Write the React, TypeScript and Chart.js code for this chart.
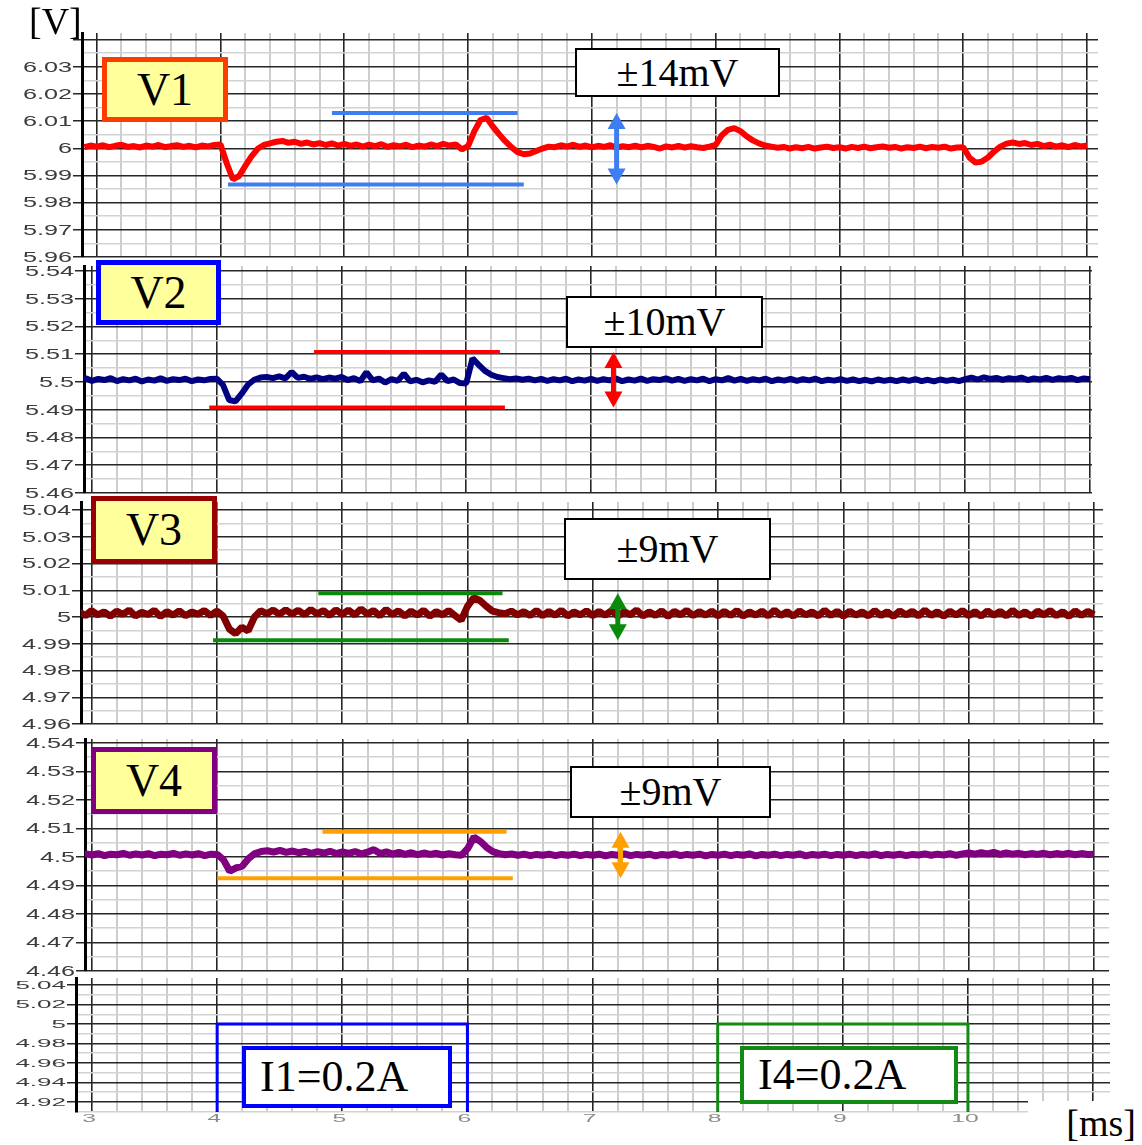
import React, { useEffect, useRef } from 'react';
import { Chart, registerables } from 'chart.js';

Chart.register(...registerables);

// ---------------- data ----------------
const TIME_MS = [
  2.9, 2.95,
  3, 3.05, 3.1, 3.15, 3.2, 3.25, 3.3, 3.35, 3.4, 3.45, 3.5, 3.55, 3.6, 3.65, 3.7, 3.75, 3.8, 3.85, 3.9, 3.95,
  4, 4.05, 4.1, 4.15, 4.2, 4.25, 4.3, 4.35, 4.4, 4.45, 4.5, 4.55, 4.6, 4.65, 4.7, 4.75, 4.8, 4.85, 4.9, 4.95,
  5, 5.05, 5.1, 5.15, 5.2, 5.25, 5.3, 5.35, 5.4, 5.45, 5.5, 5.55, 5.6, 5.65, 5.7, 5.75, 5.8, 5.85, 5.9, 5.95,
  6, 6.05, 6.1, 6.15, 6.2, 6.25, 6.3, 6.35, 6.4, 6.45, 6.5, 6.55, 6.6, 6.65, 6.7, 6.75, 6.8, 6.85, 6.9, 6.95,
  7, 7.05, 7.1, 7.15, 7.2, 7.25, 7.3, 7.35, 7.4, 7.45, 7.5, 7.55, 7.6, 7.65, 7.7, 7.75, 7.8, 7.85, 7.9, 7.95,
  8, 8.05, 8.1, 8.15, 8.2, 8.25, 8.3, 8.35, 8.4, 8.45, 8.5, 8.55, 8.6, 8.65, 8.7, 8.75, 8.8, 8.85, 8.9, 8.95,
  9, 9.05, 9.1, 9.15, 9.2, 9.25, 9.3, 9.35, 9.4, 9.45, 9.5, 9.55, 9.6, 9.65, 9.7, 9.75, 9.8, 9.85, 9.9, 9.95,
  10, 10.05, 10.1, 10.15, 10.2, 10.25, 10.3, 10.35, 10.4, 10.45, 10.5, 10.55, 10.6, 10.65, 10.7, 10.75, 10.8, 10.85, 10.9, 10.95,
  11,
];

const V1_VOLTS = [
  6.0004, 6.0010,
  6.0006, 6.0011, 6.0004, 6.0009, 6.0013, 6.0005, 6.0008, 6.0003, 6.0010, 6.0006, 6.0012, 6.0004, 6.0008, 6.0011, 6.0005, 6.0009, 6.0003, 6.0010, 6.0007, 6.0012,
  6.0014, 5.9945, 5.9886, 5.9898, 5.9935, 5.9970, 5.9998, 6.0012, 6.0018, 6.0024, 6.0027, 6.0020, 6.0024, 6.0016, 6.0021, 6.0014, 6.0019, 6.0012, 6.0018, 6.0010,
  6.0016, 6.0009, 6.0014, 6.0006, 6.0013, 6.0008, 6.0015, 6.0005, 6.0011, 6.0007, 6.0013, 6.0004, 6.0010, 6.0006, 6.0014, 6.0008, 6.0016, 6.0010, 6.0014, 5.9996,
  6.0008, 6.0062, 6.0104, 6.0112, 6.0080, 6.0052, 6.0026, 6.0004, 5.9986, 5.9978, 5.9981, 5.9990, 5.9999, 6.0006, 6.0004, 6.0011, 6.0006, 6.0013, 6.0005, 6.0010,
  6.0003, 6.0009, 6.0005, 6.0011, 6.0002, 6.0008, 6.0004, 6.0010, 6.0003, 6.0009, 6.0005, 5.9999, 6.0007, 6.0003, 6.0009, 6.0002, 6.0008, 6.0004, 6.0001, 6.0006,
  6.0012, 6.0048, 6.0068, 6.0074, 6.0063, 6.0044, 6.0029, 6.0018, 6.0010, 6.0006, 6.0002, 6.0005, 5.9999, 6.0004, 6.0000, 6.0005, 5.9999, 6.0003, 6.0006, 6.0001,
  6.0004, 5.9999, 6.0005, 6.0001, 6.0006, 6.0000, 6.0004, 6.0007, 6.0002, 6.0005, 5.9999, 6.0004, 6.0001, 6.0006, 6.0000, 6.0005, 6.0002, 6.0006, 5.9999, 6.0003,
  6.0004, 5.9966, 5.9947, 5.9951, 5.9966, 5.9988, 6.0006, 6.0017, 6.0021, 6.0016, 6.0019, 6.0012, 6.0016, 6.0008, 6.0013, 6.0006, 6.0011, 6.0004, 6.0012, 6.0007,
  6.0010,
];

const V2_VOLTS = [
  5.5006, 5.5013,
  5.5004, 5.5011, 5.5007, 5.5014, 5.5003, 5.5010, 5.5006, 5.5012, 5.5002, 5.5009, 5.5005, 5.5013, 5.5004, 5.5010, 5.5007, 5.5012, 5.5003, 5.5009, 5.5006, 5.5011,
  5.5012, 5.4990, 5.4935, 5.4930, 5.4958, 5.4990, 5.5008, 5.5016, 5.5018, 5.5014, 5.5020, 5.5013, 5.5036, 5.5015, 5.5019, 5.5011, 5.5017, 5.5010, 5.5016, 5.5012,
  5.5018, 5.5007, 5.5014, 5.5003, 5.5035, 5.5006, 5.5012, 5.4998, 5.5010, 5.5004, 5.5030, 5.5002, 5.5008, 5.4999, 5.5006, 5.5001, 5.5027, 5.5003, 5.5009, 5.4996,
  5.4995, 5.5085, 5.5062, 5.5040, 5.5026, 5.5018, 5.5014, 5.5010, 5.5013, 5.5008, 5.5012, 5.5006, 5.5011, 5.5004, 5.5010, 5.5006, 5.5012, 5.5003, 5.5009, 5.5005,
  5.5011, 5.5004, 5.5010, 5.5006, 5.5013, 5.5003, 5.5009, 5.5005, 5.5012, 5.5004, 5.5010, 5.5007, 5.5013, 5.5005, 5.5011, 5.5004, 5.5010, 5.5006, 5.5012, 5.5003,
  5.5010, 5.5006, 5.5014, 5.5005, 5.5011, 5.5004, 5.5010, 5.5006, 5.5012, 5.5003, 5.5009, 5.5005, 5.5011, 5.5004, 5.5010, 5.5006, 5.5012, 5.5003, 5.5008, 5.5005,
  5.5010, 5.5004, 5.5009, 5.5003, 5.5008, 5.5002, 5.5009, 5.5004, 5.5008, 5.5003, 5.5009, 5.5004, 5.5010, 5.5003, 5.5008, 5.5002, 5.5009, 5.5004, 5.5008, 5.5003,
  5.5010, 5.5016, 5.5009, 5.5017, 5.5011, 5.5015, 5.5008, 5.5014, 5.5010, 5.5016, 5.5007, 5.5013, 5.5009, 5.5015, 5.5008, 5.5014, 5.5010, 5.5015, 5.5007, 5.5013,
  5.5010,
];

const V3_VOLTS = [
  5.0020, 5.0005,
  5.0024, 5.0008, 5.0019, 5.0003, 5.0022, 5.0010, 5.0026, 5.0004, 5.0018, 5.0009, 5.0025, 5.0002, 5.0020, 5.0007, 5.0023, 5.0005, 5.0019, 5.0010, 5.0024, 5.0006,
  5.0022, 5.0004, 4.9955, 4.9938, 4.9962, 4.9948, 5.0000, 5.0024, 5.0012, 5.0026, 5.0010, 5.0027, 5.0011, 5.0025, 5.0009, 5.0028, 5.0012, 5.0024, 5.0006, 5.0027,
  5.0010, 5.0026, 5.0008, 5.0030, 5.0011, 5.0024, 5.0005, 5.0028, 5.0009, 5.0023, 5.0004, 5.0022, 5.0007, 5.0025, 5.0003, 5.0020, 5.0008, 5.0024, 5.0006, 4.9988,
  5.0040, 5.0072, 5.0062, 5.0040, 5.0022, 5.0016, 5.0012, 5.0022, 5.0008, 5.0020, 5.0006, 5.0024, 5.0005, 5.0021, 5.0007, 5.0025, 5.0004, 5.0019, 5.0008, 5.0023,
  5.0005, 5.0021, 5.0007, 5.0024, 5.0003, 5.0020, 5.0008, 5.0026, 5.0004, 5.0019, 5.0006, 5.0023, 5.0002, 5.0021, 5.0008, 5.0025, 5.0005, 5.0020, 5.0007, 5.0022,
  5.0004, 5.0021, 5.0006, 5.0024, 5.0003, 5.0019, 5.0007, 5.0022, 5.0004, 5.0026, 5.0006, 5.0020, 5.0003, 5.0023, 5.0008, 5.0019, 5.0004, 5.0025, 5.0006, 5.0021,
  5.0003, 5.0022, 5.0007, 5.0019, 5.0004, 5.0024, 5.0006, 5.0020, 5.0002, 5.0023, 5.0008, 5.0021, 5.0004, 5.0026, 5.0006, 5.0019, 5.0003, 5.0022, 5.0007, 5.0024,
  5.0005, 5.0020, 5.0003, 5.0023, 5.0007, 5.0021, 5.0004, 5.0025, 5.0006, 5.0019, 5.0003, 5.0022, 5.0008, 5.0024, 5.0005, 5.0020, 5.0002, 5.0023, 5.0006, 5.0021,
  5.0008,
];

const V4_VOLTS = [
  4.5006, 4.5011,
  4.5007, 4.5012, 4.5005, 4.5010, 4.5008, 4.5013, 4.5006, 4.5011, 4.5007, 4.5012, 4.5005, 4.5010, 4.5008, 4.5013, 4.5006, 4.5011, 4.5007, 4.5012, 4.5005, 4.5010,
  4.5009, 4.4990, 4.4950, 4.4962, 4.4968, 4.4995, 4.5012, 4.5019, 4.5022, 4.5017, 4.5023, 4.5016, 4.5021, 4.5015, 4.5020, 4.5013, 4.5019, 4.5014, 4.5020, 4.5012,
  4.5018, 4.5013, 4.5019, 4.5011, 4.5017, 4.5026, 4.5012, 4.5018, 4.5010, 4.5016, 4.5009, 4.5015, 4.5008, 4.5014, 4.5009, 4.5013, 4.5007, 4.5012, 4.5008, 4.5006,
  4.5030, 4.5070, 4.5055, 4.5034, 4.5019, 4.5012, 4.5008, 4.5011, 4.5006, 4.5010, 4.5005, 4.5009, 4.5006, 4.5010, 4.5005, 4.5009, 4.5006, 4.5010, 4.5005, 4.5009,
  4.5006, 4.5010, 4.5004, 4.5009, 4.5006, 4.5011, 4.5005, 4.5009, 4.5006, 4.5010, 4.5004, 4.5009, 4.5006, 4.5011, 4.5005, 4.5009, 4.5006, 4.5010, 4.5004, 4.5009,
  4.5006, 4.5010, 4.5005, 4.5009, 4.5006, 4.5011, 4.5004, 4.5009, 4.5006, 4.5010, 4.5005, 4.5009, 4.5006, 4.5011, 4.5004, 4.5009, 4.5006, 4.5010, 4.5005, 4.5009,
  4.5006, 4.5010, 4.5005, 4.5009, 4.5006, 4.5011, 4.5005, 4.5009, 4.5006, 4.5010, 4.5005, 4.5009, 4.5007, 4.5011, 4.5006, 4.5010, 4.5007, 4.5012, 4.5006, 4.5011,
  4.5014, 4.5010, 4.5015, 4.5011, 4.5016, 4.5009, 4.5014, 4.5010, 4.5013, 4.5008, 4.5012, 4.5009, 4.5013, 4.5008, 4.5012, 4.5009, 4.5013, 4.5008, 4.5012, 4.5009,
  4.5010,
];

// tolerance bands [lower, upper] and their time spans [[lower start, end], [upper start, end]]
const V1_LIMITS = [5.9867, 6.013];
const V1_LIMIT_SPANS = [[4.06, 6.45], [4.9, 6.4]];
const V1_ARROW_MS = 7.2;
const V2_LIMITS = [5.4908, 5.5108];
const V2_LIMIT_SPANS = [[3.94, 6.31], [4.78, 6.27]];
const V2_ARROW_MS = 7.18;
const V3_LIMITS = [4.9913, 5.0089];
const V3_LIMIT_SPANS = [[3.97, 6.33], [4.81, 6.28]];
const V3_ARROW_MS = 7.2;
const V4_LIMITS = [4.4925, 4.5089];
const V4_LIMIT_SPANS = [[4.0, 6.36], [4.84, 6.31]];
const V4_ARROW_MS = 7.22;

// load current steps (bottom panel)
const I1_STEP_MS = [4, 4, 6, 6];
const I1_STEP_LEVEL = [4.9, 5.0, 5.0, 4.9];
const I4_STEP_MS = [8, 8, 10, 10];
const I4_STEP_LEVEL = [4.9, 5.0, 5.0, 4.9];

// tick labels
const V1_TICK_LABELS = ['6.03', '6.02', '6.01', '6', '5.99', '5.98', '5.97', '5.96'];
const V2_TICK_LABELS = ['5.54', '5.53', '5.52', '5.51', '5.5', '5.49', '5.48', '5.47', '5.46'];
const V3_TICK_LABELS = ['5.04', '5.03', '5.02', '5.01', '5', '4.99', '4.98', '4.97', '4.96'];
const V4_TICK_LABELS = ['4.54', '4.53', '4.52', '4.51', '4.5', '4.49', '4.48', '4.47', '4.46'];
const I_TICK_LABELS = ['5.04', '5.02', '5', '4.98', '4.96', '4.94', '4.92'];
const TIME_TICK_LABELS = ['3', '4', '5', '6', '7', '8', '9', '10', '11'];

// ---------------- helpers ----------------
const W = 1142;
const near = (v: number, step: number) => Math.abs(v / step - Math.round(v / step)) < 1e-6;

function trace(values: number[], color: string, width: number) {
  const n = Math.min(TIME_MS.length, values.length);
  const data = [];
  for (let i = 0; i < n; i++) data.push({ x: TIME_MS[i], y: values[i] });
  return { data, borderColor: color, borderWidth: width, pointRadius: 0, tension: 0, borderJoinStyle: 'bevel' };
}
function limitLine(span: number[], level: number, color: string) {
  return {
    data: [{ x: span[0], y: level }, { x: span[1], y: level }],
    borderColor: color, borderWidth: 4, pointRadius: 0,
  };
}
function stepLine(xs: number[], ys: number[], color: string) {
  return {
    data: xs.map((x, i) => ({ x, y: ys[i] })),
    borderColor: color, borderWidth: 3, pointRadius: 0, tension: 0,
  };
}

type Spec = {
  top: number; bottom: number; left: number; right: number;
  xMin: number; xMax: number; yMin: number; yMax: number;
  yStep: number; yMajor: number;
  datasets: any[];
  yLabels: string[];
  fontSize: number; stretch: number;
  xLabels?: string[];
  arrow?: { at: number; from: number; to: number; color: string };
  clipBottom?: number;
};

function makeOverlay(spec: Spec, canvasTop: number) {
  return {
    id: 'overlay',
    afterDatasetsDraw(chart: any) {
      const a = spec.arrow;
      if (!a) return;
      const { ctx } = chart;
      const xs = chart.scales.x, ys = chart.scales.y;
      const px = xs.getPixelForValue(a.at);
      const pTop = ys.getPixelForValue(a.to);
      const pBot = ys.getPixelForValue(a.from);
      const head = 16, half = 9;
      ctx.save();
      ctx.fillStyle = a.color;
      ctx.strokeStyle = a.color;
      ctx.lineWidth = 5;
      ctx.beginPath();
      ctx.moveTo(px, pTop + head - 2);
      ctx.lineTo(px, pBot - head + 2);
      ctx.stroke();
      ctx.beginPath();
      ctx.moveTo(px, pTop);
      ctx.lineTo(px - half, pTop + head);
      ctx.lineTo(px + half, pTop + head);
      ctx.closePath();
      ctx.fill();
      ctx.beginPath();
      ctx.moveTo(px, pBot);
      ctx.lineTo(px - half, pBot - head);
      ctx.lineTo(px + half, pBot - head);
      ctx.closePath();
      ctx.fill();
      ctx.restore();
    },
    afterDraw(chart: any) {
      const { ctx, chartArea } = chart;
      const ys = chart.scales.y, xs = chart.scales.x;
      ctx.save();
      if (spec.clipBottom != null) {
        ctx.beginPath();
        ctx.rect(0, 0, chart.width, spec.clipBottom - canvasTop);
        ctx.clip();
      }
      ctx.font = `${spec.fontSize}px "Liberation Sans", Arial, sans-serif`;
      ctx.fillStyle = '#3c3c3c';
      ctx.textAlign = 'right';
      ctx.textBaseline = 'middle';
      for (const lab of spec.yLabels) {
        const py = ys.getPixelForValue(parseFloat(lab));
        ctx.save();
        ctx.translate(chartArea.left - 10, py + 1);
        ctx.scale(spec.stretch, 1);
        ctx.fillText(lab, 0, 0);
        ctx.restore();
      }
      ctx.restore();
      if (spec.xLabels) {
        ctx.save();
        ctx.font = `${spec.fontSize}px "Liberation Sans", Arial, sans-serif`;
        ctx.fillStyle = '#8a8a8a';
        ctx.textAlign = 'center';
        ctx.textBaseline = 'top';
        for (const lab of spec.xLabels) {
          const px = xs.getPixelForValue(parseFloat(lab));
          ctx.save();
          ctx.translate(px - 3, chartArea.bottom + 2);
          ctx.scale(spec.stretch * 0.95, 1);
          ctx.fillText(lab, 0, 0);
          ctx.restore();
        }
        ctx.restore();
      }
    },
  };
}

function Panel({ spec }: { spec: Spec }) {
  const ref = useRef<HTMLCanvasElement>(null);
  const padTop = 12;
  const padBottom = spec.xLabels ? 34 : 12;
  const height = spec.bottom - spec.top + padTop + padBottom;
  const canvasTop = spec.top - padTop;

  useEffect(() => {
    if (!ref.current) return;
    const majorX = (ctx: any) => (ctx.tick ? near(ctx.tick.value, 1) : false);
    const majorY = (ctx: any) => (ctx.tick ? near(ctx.tick.value, spec.yMajor) : false);
    const chart = new Chart(ref.current, {
      type: 'line',
      data: { datasets: spec.datasets },
      options: {
        animation: false,
        responsive: false,
        devicePixelRatio: 1,
        events: [],
        layout: { padding: { top: padTop, bottom: padBottom, left: 0, right: W - spec.right } },
        plugins: { legend: { display: false }, tooltip: { enabled: false } },
        scales: {
          x: {
            type: 'linear',
            min: spec.xMin,
            max: spec.xMax,
            ticks: { display: false, stepSize: 0.2, includeBounds: false, autoSkip: false },
            grid: {
              color: (c: any) => (majorX(c) ? '#262626' : '#cdcdcd'),
              lineWidth: (c: any) => (majorX(c) ? 1.6 : 2),
              drawTicks: false,
            },
            border: { display: false },
            afterFit: (s: any) => { s.height = 0; },
          },
          y: {
            type: 'linear',
            min: spec.yMin,
            max: spec.yMax,
            ticks: { display: false, stepSize: spec.yStep, includeBounds: false, autoSkip: false },
            grid: {
              color: (c: any) => (majorY(c) ? '#262626' : '#d2d2d2'),
              lineWidth: 1.5,
              tickColor: (c: any) => (majorY(c) ? '#262626' : 'rgba(0,0,0,0)'),
              tickLength: 9,
              tickWidth: 1.5,
              drawTicks: true,
            },
            border: { display: true, color: '#000', width: 3 },
            afterFit: (s: any) => { s.width = spec.left; },
          },
        },
      } as any,
      plugins: [makeOverlay(spec, canvasTop) as any],
    });
    return () => chart.destroy();
  }, []);

  return (
    <canvas
      ref={ref}
      width={W}
      height={height}
      style={{ position: 'absolute', left: 0, top: canvasTop, width: W, height }}
    />
  );
}

const serif = '"Liberation Serif", "Times New Roman", serif';

function Box(props: {
  left: number; top: number; width: number; height: number; border: string; bw: number;
  bg: string; text: string; size: number; align?: 'center' | 'left'; padLeft?: number;
}) {
  const { left, top, width, height, border, bw, bg, text, size, align = 'center', padLeft = 0 } = props;
  return (
    <div
      style={{
        position: 'absolute', left, top, width, height, boxSizing: 'border-box',
        border: `${bw}px solid ${border}`, background: bg, display: 'flex', alignItems: 'center',
        justifyContent: align === 'center' ? 'center' : 'flex-start', paddingLeft: padLeft,
        fontFamily: serif, fontSize: size, color: '#000', lineHeight: 1, whiteSpace: 'nowrap',
      }}
    >
      {text}
    </div>
  );
}

export default function App() {
  const panels: Spec[] = [
    {
      top: 33, bottom: 257, left: 82, right: 1098,
      xMin: 2.881, xMax: 11.089, yMin: 5.96, yMax: 6.0424, yStep: 0.005, yMajor: 0.01,
      datasets: [
        limitLine(V1_LIMIT_SPANS[1], V1_LIMITS[1], '#3d7ef2'),
        limitLine(V1_LIMIT_SPANS[0], V1_LIMITS[0], '#3d7ef2'),
        trace(V1_VOLTS, '#ff0000', 6),
      ],
      yLabels: V1_TICK_LABELS, fontSize: 14, stretch: 1.8,
      arrow: { at: V1_ARROW_MS, from: V1_LIMITS[0], to: V1_LIMITS[1], color: '#3d7ef2' },
      clipBottom: 262,
    },
    {
      top: 266, bottom: 493, left: 84, right: 1092,
      xMin: 2.936, xMax: 11.016, yMin: 5.46, yMax: 5.5418, yStep: 0.005, yMajor: 0.01,
      datasets: [
        limitLine(V2_LIMIT_SPANS[1], V2_LIMITS[1], '#ff0000'),
        limitLine(V2_LIMIT_SPANS[0], V2_LIMITS[0], '#ff0000'),
        trace(V2_VOLTS, '#000080', 6),
      ],
      yLabels: V2_TICK_LABELS, fontSize: 14, stretch: 1.8,
      arrow: { at: V2_ARROW_MS, from: V2_LIMITS[0], to: V2_LIMITS[1], color: '#ff0000' },
      clipBottom: 498,
    },
    {
      top: 502, bottom: 724, left: 81, right: 1103,
      xMin: 2.916, xMax: 11.072, yMin: 4.96, yMax: 5.043, yStep: 0.005, yMajor: 0.01,
      datasets: [
        limitLine(V3_LIMIT_SPANS[1], V3_LIMITS[1], '#0a8a0a'),
        limitLine(V3_LIMIT_SPANS[0], V3_LIMITS[0], '#0a8a0a'),
        trace(V3_VOLTS, '#800000', 7),
      ],
      yLabels: V3_TICK_LABELS, fontSize: 14, stretch: 1.8,
      arrow: { at: V3_ARROW_MS, from: V3_LIMITS[0], to: V3_LIMITS[1], color: '#0a8a0a' },
    },
    {
      top: 739, bottom: 971, left: 85, right: 1109,
      xMin: 2.944, xMax: 11.12, yMin: 4.46, yMax: 4.5414, yStep: 0.005, yMajor: 0.01,
      datasets: [
        limitLine(V4_LIMIT_SPANS[1], V4_LIMITS[1], '#ffa000'),
        limitLine(V4_LIMIT_SPANS[0], V4_LIMITS[0], '#ffa000'),
        trace(V4_VOLTS, '#800080', 7),
      ],
      yLabels: V4_TICK_LABELS, fontSize: 14, stretch: 1.8,
      arrow: { at: V4_ARROW_MS, from: V4_LIMITS[0], to: V4_LIMITS[1], color: '#ffa000' },
    },
    {
      top: 978, bottom: 1112, left: 76, right: 1110,
      xMin: 2.872, xMax: 11.135, yMin: 4.9097, yMax: 5.0472, yStep: 0.01, yMajor: 0.02,
      datasets: [
        stepLine(I1_STEP_MS, I1_STEP_LEVEL, '#0000ff'),
        stepLine(I4_STEP_MS, I4_STEP_LEVEL, '#138a13'),
      ],
      yLabels: I_TICK_LABELS, fontSize: 10, stretch: 2.6,
      xLabels: TIME_TICK_LABELS,
    },
  ];

  return (
    <div style={{ position: 'absolute', left: 0, top: 0, width: W, height: 1145, background: '#fff', overflow: 'hidden' }}>
      {panels.map((p, i) => <Panel key={i} spec={p} />)}

      <div style={{ position: 'absolute', left: 29, top: 2, fontFamily: serif, fontSize: 38, lineHeight: 1 }}>[V]</div>

      <Box left={102} top={57} width={126} height={65} border="#ff3c00" bw={5} bg="#ffff9c" text="V1" size={46} />
      <Box left={96} top={260} width={125} height={65} border="#0000ff" bw={5} bg="#ffff9c" text="V2" size={46} />
      <Box left={91} top={496} width={126} height={68} border="#990000" bw={5} bg="#ffff9c" text="V3" size={46} />
      <Box left={91} top={747} width={126} height={67} border="#800080" bw={5} bg="#ffff9c" text="V4" size={46} />

      <Box left={575} top={48} width={205} height={49} border="#000" bw={2} bg="#fff" text="±14mV" size={40} />
      <Box left={566} top={296} width={197} height={52} border="#000" bw={2} bg="#fff" text="±10mV" size={40} />
      <Box left={564} top={518} width={207} height={62} border="#000" bw={2} bg="#fff" text="±9mV" size={40} />
      <Box left={570} top={766} width={201} height={52} border="#000" bw={2} bg="#fff" text="±9mV" size={40} />

      <Box left={242} top={1046} width={210} height={62} border="#0000ff" bw={4} bg="#fff" text="I1=0.2A" size={44} align="left" padLeft={14} />
      <Box left={740} top={1046} width={218} height={58} border="#138a13" bw={4} bg="#fff" text="I4=0.2A" size={44} align="left" padLeft={14} />

      <div
        style={{
          position: 'absolute', left: 1028, top: 1101, width: 114, height: 44, background: '#fff',
          fontFamily: serif, fontSize: 38, lineHeight: '44px', textAlign: 'right', paddingRight: 6, boxSizing: 'border-box',
        }}
      >
        [ms]
      </div>
    </div>
  );
}
